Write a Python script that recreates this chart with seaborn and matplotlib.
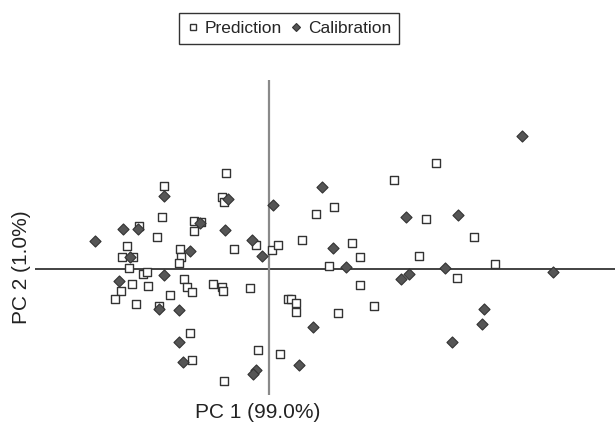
import numpy as np
import pandas as pd
import matplotlib
matplotlib.use("Agg")
import matplotlib.pyplot as plt
import seaborn as sns
from matplotlib.lines import Line2D

# PCA scores (arbitrary score units)
pred_pc1 = [-4.25, -10.45, -4.65, -4.45, -10.65, -12.95, -7.45, -7.45, -6.75, -11.15,
            -14.15, -8.85, -3.45, -1.25, 0.35, 0.95, -14.65, -13.55, -8.75, -8.95,
            -13.95, -12.55, -12.15, -13.65, -12.05, -14.75, -15.35, -8.45, -8.15, -7.65,
            -5.55, -4.65, -4.55, -1.85, -9.85, -13.25, -10.95, -7.85, -1.05, -7.65,
            -4.45, 1.15, 16.75, 12.55, 6.55, 4.75, 15.75, 3.35, 8.35, 9.15,
            15.05, 6.05, 9.15, 1.95, 2.25, 2.75, 2.75, 6.95, 10.55, 20.55,
            22.65, 18.85]
pred_pc2 = [9.6, 8.3, 7.2, 6.7, 5.2, 4.3, 4.8, 3.8, 4.7, 3.2,
            2.3, 2.0, 2.0, 2.4, 1.9, 2.4, 1.2, 1.2, 1.2, 0.6,
            0.1, -0.5, -0.3, -1.5, -1.7, -2.2, -3.0, -1.0, -1.8, -2.3,
            -1.5, -1.8, -2.2, -1.9, -2.6, -3.5, -3.7, -6.4, -8.1, -9.1,
            -11.2, -8.5, 10.6, 8.9, 6.2, 5.5, 5.0, 2.9, 2.6, 1.2,
            1.3, 0.3, -1.6, -3.0, -3.0, -3.4, -4.3, -4.4, -3.7, 3.2,
            0.5, -0.9]

cal_pc1 = [-10.45, -4.05, -14.55, -13.05, -6.85, -4.35, -17.35, -1.65, -7.85, 0.45,
           -0.65, -13.85, -10.45, -14.95, -10.95, -8.95, -8.95, -8.55, -1.25, -1.55,
           5.35, 13.75, 6.45, 7.75, 17.65, 13.25, 14.05, 4.45, 3.05, 25.35,
           18.95, 28.45, 21.55, 21.35, 18.35]
cal_pc2 = [7.3, 7.0, 4.0, 4.0, 4.6, 3.9, 2.8, 2.9, 1.8, 6.4,
           1.3, 1.2, -0.6, -1.2, -4.0, -4.1, -7.3, -9.3, -10.1, -10.5,
           8.2, 5.2, 2.1, 0.2, 0.1, -1.0, -0.5, -5.8, -9.6, 13.3,
           5.4, -0.3, -4.0, -5.5, -7.3]

labels = ["Prediction", "Calibration"]
xlabel = "PC 1 (99.0%)"
ylabel = "PC 2 (1.0%)"

pred = pd.DataFrame({"pc1": pred_pc1, "pc2": pred_pc2})
cal = pd.DataFrame({"pc1": cal_pc1, "pc2": cal_pc2})

sns.set_style("white")
plt.rcParams["font.family"] = ["Liberation Sans", "DejaVu Sans"]

fig = plt.figure(figsize=(6.15, 4.26), dpi=100)
ax = fig.add_axes([0.057, 0.073, 0.943, 0.739])

# axis cross through the origin
ax.axhline(0, color="#222222", lw=1.2, zorder=1)
ax.axvline(0, color="#8a8a8a", lw=1.6, zorder=1)

sns.scatterplot(data=pred, x="pc1", y="pc2", marker="s", s=29,
                facecolor="white", edgecolor="#333333", linewidth=1.0, ax=ax, zorder=3)
sns.scatterplot(data=cal, x="pc1", y="pc2", marker="D", s=32,
                color="#555555", edgecolor="#333333", linewidth=0.8, ax=ax, zorder=4)

ax.set_xlim(-23.35, 34.65)
ax.set_ylim(-12.6, 18.9)
ax.set_xticks([])
ax.set_yticks([])
ax.set_xlabel("")
ax.set_ylabel("")
for sp in ax.spines.values():
    sp.set_visible(False)

fig.text(258 / 615, 0.031, xlabel, ha="center", va="center", fontsize=15, color="#222222")
fig.text(22 / 615, 0.372, ylabel, ha="center", va="center", rotation=90, fontsize=15, color="#222222")

handles = [
    Line2D([], [], ls="none", marker="s", ms=5, mfc="white", mec="#333333", mew=1.0),
    Line2D([], [], ls="none", marker="D", ms=4.5, mfc="#555555", mec="#333333", mew=0.8),
]
leg = fig.legend(handles, labels, loc="center", bbox_to_anchor=(289 / 615, 0.934), ncol=2,
                 frameon=True, fancybox=False, fontsize=12.5, handlelength=0.7,
                 handletextpad=0.3, columnspacing=0.5, borderpad=0.45, borderaxespad=0)
leg.get_frame().set_edgecolor("black")
leg.get_frame().set_linewidth(1.0)

fig.savefig("out.png", dpi=100)
